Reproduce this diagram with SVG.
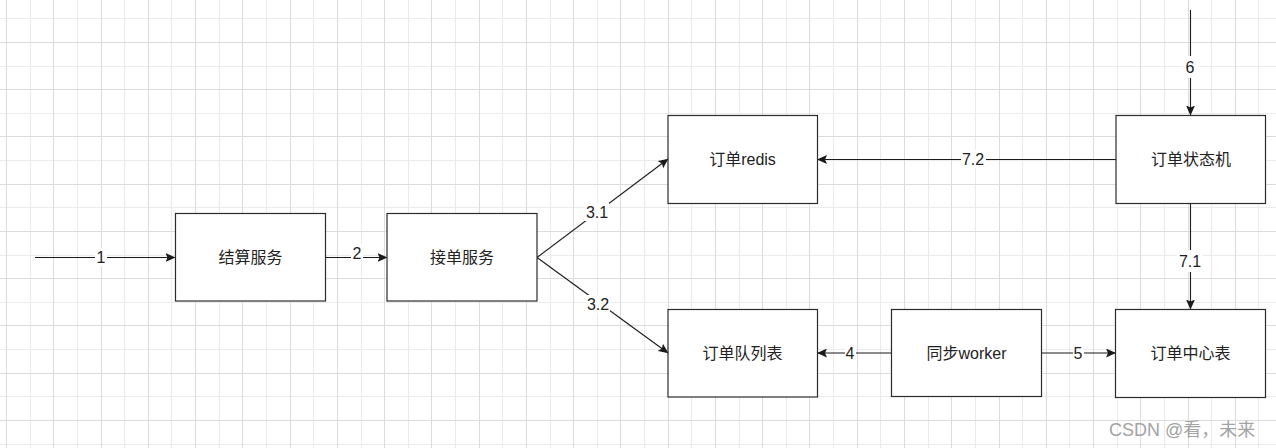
<svg xmlns="http://www.w3.org/2000/svg" width="1276" height="448" viewBox="0 0 1276 448">
<defs>
<style>
.minor{stroke:#ebebeb;stroke-width:1;fill:none}
.major{stroke:#dcdcdc;stroke-width:1;fill:none}
.box{fill:#ffffff;stroke:#2b2b2b;stroke-width:1.2}
.lbl{font-family:"Liberation Sans","Noto Sans CJK SC",sans-serif;font-size:16px;fill:#222;text-anchor:middle}
.edge{stroke:#1a1a1a;stroke-width:1.1;fill:none;marker-end:url(#arr)}
.elbl{font-family:"Liberation Sans","Noto Sans CJK SC",sans-serif;font-size:16px;fill:#222;text-anchor:middle}
.lbg{fill:#ffffff}
.wm{font-family:"Liberation Sans","Noto Sans CJK SC",sans-serif;font-size:18px;fill:#a3a3a3}
</style>
<marker id="arr" viewBox="0 0 10 9" refX="9.5" refY="4.5" markerWidth="10" markerHeight="9" markerUnits="userSpaceOnUse" orient="auto">
<path d="M0,0 L10,4.5 L0,9 L2,4.5 Z" fill="#1a1a1a"/>
</marker>
</defs>
<rect width="1276" height="448" fill="#ffffff"/>
<g id="grid" shape-rendering="crispEdges">
<path class="minor" d="M30.1,0V448M77.4,0V448M124.6,0V448M171.9,0V448M219.2,0V448M266.4,0V448M313.7,0V448M361,0V448M408.2,0V448M455.5,0V448M502.7,0V448M550,0V448M597.3,0V448M644.5,0V448M691.8,0V448M739,0V448M786.3,0V448M833.6,0V448M880.8,0V448M928.1,0V448M975.3,0V448M1022.6,0V448M1069.9,0V448M1117.1,0V448M1164.4,0V448M1211.6,0V448M1258.9,0V448M0,18.8H1276M0,66H1276M0,113.3H1276M0,160.5H1276M0,207.8H1276M0,255H1276M0,302.2H1276M0,349.5H1276M0,396.7H1276M0,444H1276"/>
<path class="major" d="M6.5,0V448M53.8,0V448M101,0V448M148.3,0V448M195.5,0V448M242.8,0V448M290.1,0V448M337.3,0V448M384.6,0V448M431.8,0V448M479.1,0V448M526.4,0V448M573.6,0V448M620.9,0V448M668.1,0V448M715.4,0V448M762.7,0V448M809.9,0V448M857.2,0V448M904.4,0V448M951.7,0V448M999,0V448M1046.2,0V448M1093.5,0V448M1140.7,0V448M1188,0V448M1235.3,0V448M0,42.4H1276M0,89.7H1276M0,136.9H1276M0,184.2H1276M0,231.4H1276M0,278.6H1276M0,325.9H1276M0,373.1H1276M0,420.4H1276"/>
</g>
<g id="connectors">
<path class="edge" d="M35,257.5H175"/>
<path class="edge" d="M325.5,257.5H387"/>
<path class="edge" d="M537,257.5L668,159"/>
<path class="edge" d="M537,257.5L668,353"/>
<path class="edge" d="M1116,159.5H817.5"/>
<path class="edge" d="M1190.5,10V115"/>
<path class="edge" d="M1190.5,203.5V309"/>
<path class="edge" d="M891.5,353H817.5"/>
<path class="edge" d="M1041.5,353H1115.5"/>
<rect class="lbg" x="95" y="248" width="12" height="18"/>
<text class="elbl" x="101" y="263">1</text>
<rect class="lbg" x="351" y="244" width="12" height="16"/>
<text class="elbl" x="357" y="259">2</text>
<rect class="lbg" x="585" y="203" width="24" height="18"/>
<text class="elbl" x="597" y="218">3.1</text>
<rect class="lbg" x="586" y="295" width="24" height="18"/>
<text class="elbl" x="598" y="310">3.2</text>
<rect class="lbg" x="961" y="150" width="25" height="18"/>
<text class="elbl" x="973" y="165">7.2</text>
<rect class="lbg" x="1183" y="56" width="15" height="22"/>
<text class="elbl" x="1190" y="73">6</text>
<rect class="lbg" x="1177" y="250" width="26" height="22"/>
<text class="elbl" x="1190" y="267">7.1</text>
<rect class="lbg" x="845" y="344" width="11" height="18"/>
<text class="elbl" x="850" y="359">4</text>
<rect class="lbg" x="1073" y="344" width="11" height="18"/>
<text class="elbl" x="1078" y="359">5</text>
</g>
<g id="node-jiesuan">
<rect class="box" x="175.5" y="213.5" width="150" height="87.5"/>
<text class="lbl" x="250.5" y="263">结算服务</text>
</g>
<g id="node-jiedan">
<rect class="box" x="387" y="213.5" width="150" height="87.5"/>
<text class="lbl" x="462" y="263">接单服务</text>
</g>
<g id="node-redis">
<rect class="box" x="668" y="115.5" width="149.5" height="88"/>
<text class="lbl" x="742.5" y="165">订单redis</text>
</g>
<g id="node-queue">
<rect class="box" x="668" y="309.5" width="149.5" height="87.5"/>
<text class="lbl" x="742.5" y="359">订单队列表</text>
</g>
<g id="node-state">
<rect class="box" x="1116" y="115.5" width="149.5" height="88"/>
<text class="lbl" x="1191" y="165">订单状态机</text>
</g>
<g id="node-worker">
<rect class="box" x="891.5" y="309.5" width="150" height="87"/>
<text class="lbl" x="966.5" y="359">同步worker</text>
</g>
<g id="node-center">
<rect class="box" x="1115.5" y="309.5" width="150" height="88"/>
<text class="lbl" x="1190.5" y="359">订单中心表</text>
</g>
<text class="wm" x="1109" y="436">CSDN @看，未来</text>
</svg>
